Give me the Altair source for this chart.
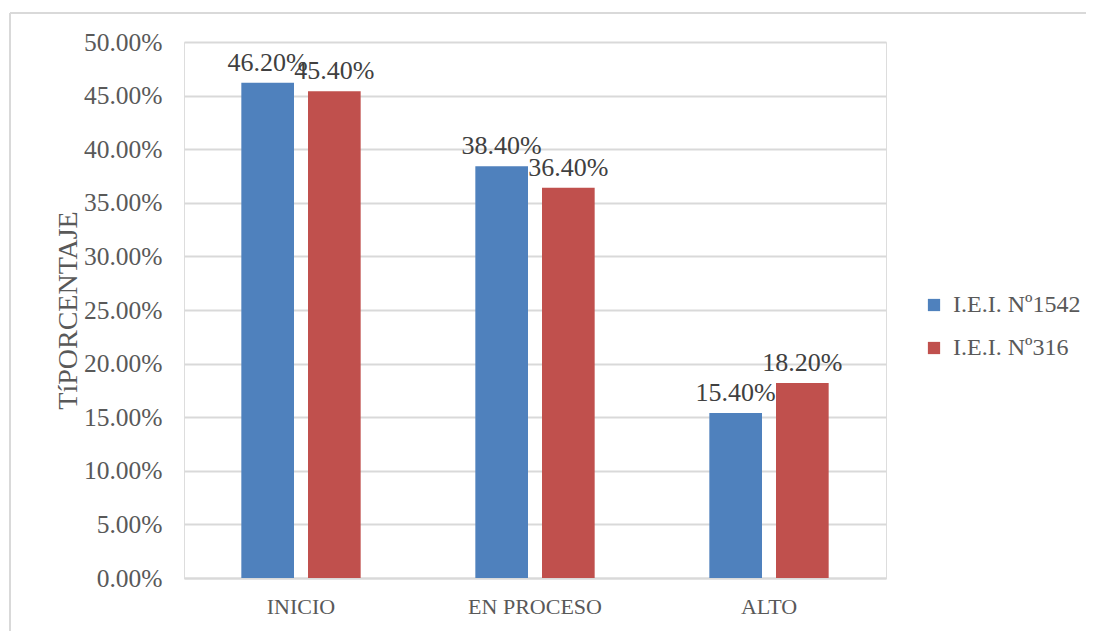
import altair as alt
import pandas as pd

categories = ["INICIO", "EN PROCESO", "ALTO"]
series_names = ["I.E.I. Nº1542", "I.E.I. Nº316"]
values_1542 = [0.462, 0.384, 0.154]
values_316 = [0.454, 0.364, 0.182]
colors = ["#4F81BD", "#C0504D"]

rows = []
for c, v in zip(categories, values_1542):
    rows.append({"cat": c, "serie": series_names[0], "val": v})
for c, v in zip(categories, values_316):
    rows.append({"cat": c, "serie": series_names[1], "val": v})
df = pd.DataFrame(rows)

FONT = "Liberation Serif"
W, H = 702, 536

x_enc = alt.X("cat:N", sort=categories, title=None,
              scale=alt.Scale(paddingInner=0.49, paddingOuter=0.245),
              axis=alt.Axis(labelAngle=0, labelFontSize=22, labelColor="#595959",
                            labelFont=FONT, ticks=False, labelPadding=18,
                            domainColor="#D9D9D9", domainWidth=2, grid=False))
xoff = alt.XOffset("serie:N", sort=series_names,
                   scale=alt.Scale(paddingInner=0.21, paddingOuter=0))
y_enc = alt.Y("val:Q", title="TíPORCENTAJE",
              scale=alt.Scale(domain=[0, 0.5], nice=False),
              axis=alt.Axis(format=".2%", values=[i * 0.05 for i in range(11)],
                            labelFontSize=25.5, labelColor="#595959", labelFont=FONT,
                            ticks=False, tickSize=0, labelPadding=22, domain=False,
                            gridColor="#D9D9D9", gridWidth=2,
                            titleFont=FONT, titleFontSize=28, titleColor="#595959",
                            titleFontWeight="normal", titleX=-116, titleY=H / 2,
                            titleAngle=-90, titleAlign="center", titleBaseline="middle"))

bars = alt.Chart(df).mark_bar().encode(
    x=x_enc, xOffset=xoff, y=y_enc,
    color=alt.Color("serie:N", sort=series_names,
                    scale=alt.Scale(domain=series_names, range=colors),
                    legend=alt.Legend(title=None, orient="none", legendX=738, legendY=251,
                                      symbolType="square", symbolSize=150,
                                      symbolStrokeWidth=0, labelFont=FONT,
                                      labelFontSize=24, labelColor="#595959",
                                      rowPadding=19, labelOffset=7)),
)

labels = alt.Chart(df).mark_text(baseline="bottom", dy=-7, font=FONT, fontSize=26,
                                 color="#404040").encode(
    x=alt.X("cat:N", sort=categories), xOffset=xoff, y="val:Q",
    text=alt.Text("val:Q", format=".2%"),
)

frame_df = pd.DataFrame({"k": [0]})
top_line = alt.Chart(frame_df).mark_rule(color="#D9D9D9", strokeWidth=2, clip=False).encode(
    x=alt.value(-174), x2=alt.value(915), y=alt.value(-29))
left_line = alt.Chart(frame_df).mark_rule(color="#D9D9D9", strokeWidth=2, clip=False).encode(
    x=alt.value(-174), y=alt.value(-29), y2=alt.value(600))

chart = alt.layer(top_line, left_line, bars, labels).properties(
    width=W, height=H,
    autosize=alt.AutoSizeParams(type="none"),
    padding={"left": 176, "top": 34, "right": 200, "bottom": 60},
).configure_view(stroke=None).configure(background="white")

chart.save("out.html", embed_options={"renderer": "svg", "actions": False})
